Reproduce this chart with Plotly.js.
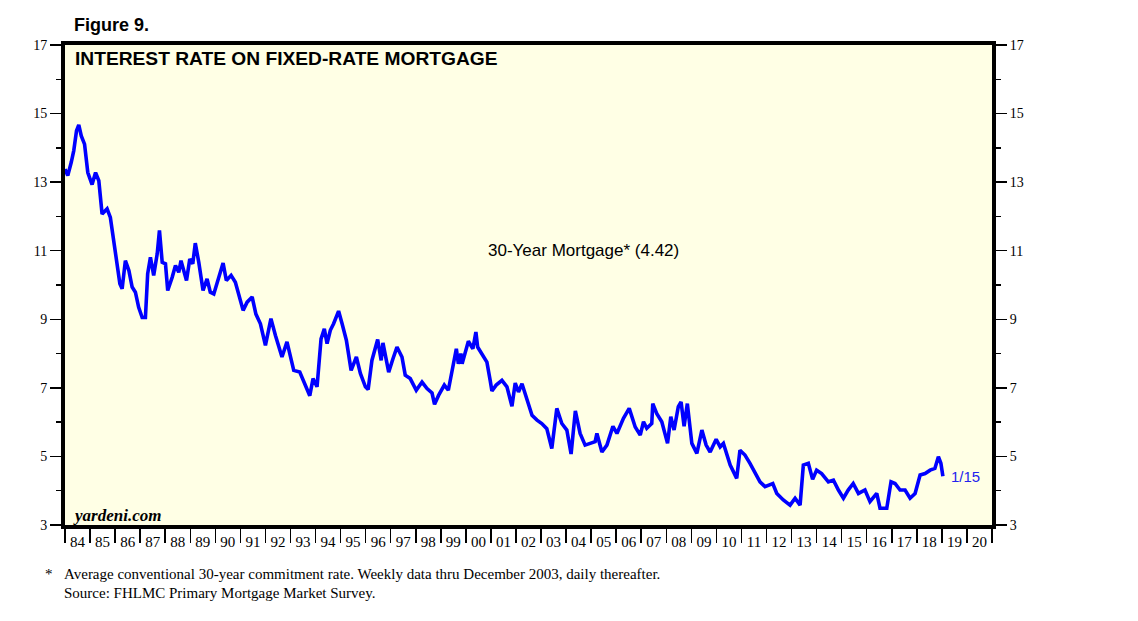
<!DOCTYPE html>
<html>
<head>
<meta charset="utf-8">
<script src="https://cdn.plot.ly/plotly-3.0.1.min.js"></script>
<style>html,body{margin:0;padding:0;background:#fff;}#chart{width:1138px;height:621px;}</style>
</head>
<body>
<div id="chart"></div>
<script>
// Decimal-year dates and 30-year mortgage rates (%)
var dates = [
1984.00,1984.11,1984.25,1984.35,1984.46,1984.55,1984.65,1984.78,1984.91,
1985.08,1985.22,1985.35,1985.48,1985.68,1985.81,
1986.01,1986.19,1986.28,1986.41,1986.55,1986.68,1986.81,1986.94,
1987.08,1987.21,1987.30,1987.41,1987.54,1987.68,1987.77,1987.88,
1988.01,1988.10,1988.28,1988.41,1988.54,1988.63,1988.85,1988.98,
1989.10,1989.20,1989.34,1989.51,1989.67,1989.80,1989.94,
1990.14,1990.31,1990.44,1990.63,1990.80,
1991.00,1991.11,1991.27,1991.47,1991.62,1991.80,
1992.00,1992.22,1992.40,1992.66,1992.86,
1993.13,1993.37,1993.53,1993.77,1993.90,
1994.06,1994.22,1994.35,1994.46,1994.59,1994.72,1994.92,
1995.06,1995.23,1995.42,1995.63,1995.79,1995.99,
1996.10,1996.25,1996.48,1996.62,1996.69,1996.92,
1997.09,1997.25,1997.45,1997.58,1997.78,
1998.02,1998.25,1998.45,1998.65,1998.75,1998.91,
1999.14,1999.30,1999.50,1999.62,1999.70,1999.80,1999.85,
2000.10,2000.28,2000.40,2000.47,2000.64,2000.84,2000.97,
2001.04,2001.21,2001.44,2001.64,2001.84,2001.97,
2002.10,2002.24,2002.44,2002.64,2002.84,
2003.03,2003.23,2003.43,2003.63,2003.83,
2004.03,2004.20,2004.37,2004.56,2004.76,2004.96,
2005.16,2005.23,2005.43,2005.63,2005.87,
2006.03,2006.29,2006.52,2006.76,2006.96,
2007.09,2007.22,2007.42,2007.46,2007.62,2007.82,
2008.05,2008.18,2008.31,2008.48,2008.59,2008.71,2008.84,
2009.02,2009.22,2009.42,2009.59,2009.75,2009.99,
2010.15,2010.28,2010.55,2010.81,2010.94,
2011.14,2011.34,2011.54,2011.74,2011.94,
2012.25,2012.41,2012.67,2012.94,
2013.14,2013.34,2013.47,2013.67,2013.84,
2014.00,2014.20,2014.47,2014.67,2014.87,
2015.07,2015.26,2015.46,2015.67,2015.93,
2016.13,2016.40,2016.53,2016.80,2016.97,
2017.13,2017.33,2017.53,2017.73,2017.93,
2018.13,2018.33,2018.53,2018.72,2018.86,2018.96,2019.04
];
var rates = [
13.38,13.19,13.58,13.92,14.50,14.67,14.35,14.11,13.28,
12.93,13.28,13.04,12.07,12.22,11.97,
10.91,10.04,9.89,10.71,10.42,9.94,9.79,9.35,
9.05,9.05,10.33,10.81,10.28,10.91,11.59,10.66,
10.62,9.84,10.23,10.57,10.37,10.71,10.13,10.76,
10.62,11.22,10.66,9.84,10.18,9.79,9.74,
10.28,10.64,10.13,10.28,10.08,
9.55,9.26,9.50,9.65,9.15,8.87,
8.24,9.02,8.53,7.90,8.34,
7.51,7.46,7.17,6.77,7.27,
7.03,8.43,8.72,8.29,8.68,8.87,9.24,
8.87,8.39,7.51,7.90,7.42,7.03,
6.95,7.80,8.41,7.80,8.31,7.46,
7.85,8.19,7.90,7.37,7.27,
6.93,7.17,6.98,6.85,6.52,6.78,
7.08,6.93,7.70,8.14,7.70,8.00,7.70,
8.36,8.14,8.63,8.19,8.00,7.75,7.22,
6.91,7.08,7.22,7.03,6.46,7.14,
6.88,7.12,6.69,6.20,6.06,
5.96,5.81,5.23,6.40,5.96,
5.77,5.07,6.33,5.67,5.33,5.38,
5.43,5.67,5.13,5.33,5.88,
5.67,6.11,6.40,5.86,5.62,
6.01,5.82,5.96,6.54,6.25,6.01,
5.38,6.16,5.77,6.45,6.59,5.88,6.54,
5.38,5.09,5.77,5.33,5.13,5.50,
5.28,5.38,4.75,4.36,5.18,
5.04,4.80,4.55,4.26,4.12,
4.21,3.92,3.73,3.58,
3.78,3.58,4.75,4.80,4.33,
4.60,4.50,4.26,4.31,4.02,
3.78,4.02,4.21,3.92,4.02,
3.68,3.92,3.49,3.49,4.26,
4.21,4.02,4.02,3.78,3.92,
4.46,4.50,4.60,4.65,4.99,4.80,4.42
];
var yearTicks = [1984,1985,1986,1987,1988,1989,1990,1991,1992,1993,1994,1995,1996,1997,1998,1999,2000,2001,2002,2003,2004,2005,2006,2007,2008,2009,2010,2011,2012,2013,2014,2015,2016,2017,2018,2019,2020,2021];
var yearLabels = ['84','85','86','87','88','89','90','91','92','93','94','95','96','97','98','99','00','01','02','03','04','05','06','07','08','09','10','11','12','13','14','15','16','17','18','19','20'];
var yMajor = [3,5,7,9,11,13,15,17];
var yMinor = [4,6,8,10,12,14,16];

var labelPos = yearLabels.map(function(_, i){ return yearTicks[i] + 0.5; });

var serif = 'Liberation Serif, Times New Roman, serif';
var sans = 'Liberation Sans, Arial, sans-serif';

var traces = [
  {x: dates, y: rates, type: 'scatter', mode: 'lines',
   line: {color: '#0000FF', width: 3.6}, hoverinfo: 'x+y', showlegend: false},
  {x: [2000], y: [null], xaxis: 'x2', yaxis: 'y2', type: 'scatter', mode: 'lines',
   hoverinfo: 'skip', showlegend: false}
];

var yCommon = {
  range: [3, 17], tickmode: 'array', tickvals: yMajor, ticktext: yMajor.map(String),
  ticks: 'outside', ticklen: 11, tickwidth: 1.5, tickcolor: '#000',
  minor: {tickmode: 'array', tickvals: yMinor, ticks: 'outside', ticklen: 5, tickwidth: 1.5, tickcolor: '#000', showgrid: false},
  tickfont: {family: serif, size: 14, color: '#000'},
  showline: true, linewidth: 4, linecolor: '#000',
  showgrid: false, zeroline: false, fixedrange: true
};

var layout = {
  width: 1138, height: 621,
  margin: {l: 65, r: 146, t: 45, b: 96, pad: 0},
  paper_bgcolor: '#ffffff', plot_bgcolor: '#FFFFE5',
  showlegend: false,
  xaxis: {
    range: [1984, 2021], tickmode: 'array', tickvals: yearTicks,
    ticks: 'outside', ticklen: 14, tickwidth: 1.5, tickcolor: '#000',
    showticklabels: false, showline: true, linewidth: 4, linecolor: '#000', mirror: true,
    showgrid: false, zeroline: false, fixedrange: true
  },
  xaxis2: {
    overlaying: 'x', side: 'bottom', range: [1984, 2021],
    tickmode: 'array', tickvals: labelPos, ticktext: yearLabels,
    ticks: 'outside', ticklen: 3, tickcolor: 'rgba(0,0,0,0)',
    tickfont: {family: serif, size: 15, color: '#000'},
    showline: false, showgrid: false, zeroline: false, fixedrange: true
  },
  yaxis: Object.assign({}, yCommon, {side: 'left'}),
  yaxis2: Object.assign({}, yCommon, {side: 'right', overlaying: 'y'}),
  annotations: [
    {xref: 'paper', yref: 'paper', x: 0.0075, y: 1.0417, xanchor: 'left', yanchor: 'middle', showarrow: false,
     text: '<b>Figure 9.</b>', font: {family: sans, size: 18, color: '#000'}},
    {xref: 'paper', yref: 'paper', x: 0.0086, y: 0.9723, xanchor: 'left', yanchor: 'middle', showarrow: false,
     text: '<b>INTEREST RATE ON FIXED-RATE MORTGAGE</b>', font: {family: sans, size: 19.2, color: '#000'}},
    {xref: 'paper', yref: 'paper', x: 0.0060, y: 0.0208, xanchor: 'left', yanchor: 'middle', showarrow: false,
     text: '<b><i>yardeni.com</i></b>', font: {family: serif, size: 17, color: '#000'}},
    {xref: 'paper', yref: 'paper', x: 0.5595, y: 0.5729, xanchor: 'center', yanchor: 'middle', showarrow: false,
     text: '30-Year Mortgage* (4.42)', font: {family: sans, size: 17, color: '#000'}},
    {xref: 'paper', yref: 'paper', x: 0.9539, y: 0.1015, xanchor: 'left', yanchor: 'middle', showarrow: false,
     text: '1/15', font: {family: sans, size: 15, color: '#2222EE'}},
    {xref: 'paper', yref: 'paper', x: -0.0240, y: -0.1021, xanchor: 'left', yanchor: 'middle', showarrow: false,
     text: '*', font: {family: serif, size: 15, color: '#000'}},
    {xref: 'paper', yref: 'paper', x: -0.0030, y: -0.1021, xanchor: 'left', yanchor: 'middle', showarrow: false,
     text: 'Average conventional 30-year commitment rate. Weekly data thru December 2003, daily thereafter.', font: {family: serif, size: 15, color: '#000'}},
    {xref: 'paper', yref: 'paper', x: -0.0030, y: -0.1417, xanchor: 'left', yanchor: 'middle', showarrow: false,
     text: 'Source: FHLMC Primary Mortgage Market Survey.', font: {family: serif, size: 15, color: '#000'}}
  ]
};

Plotly.newPlot('chart', traces, layout, {displayModeBar: false, staticPlot: true});
</script>
</body>
</html>
